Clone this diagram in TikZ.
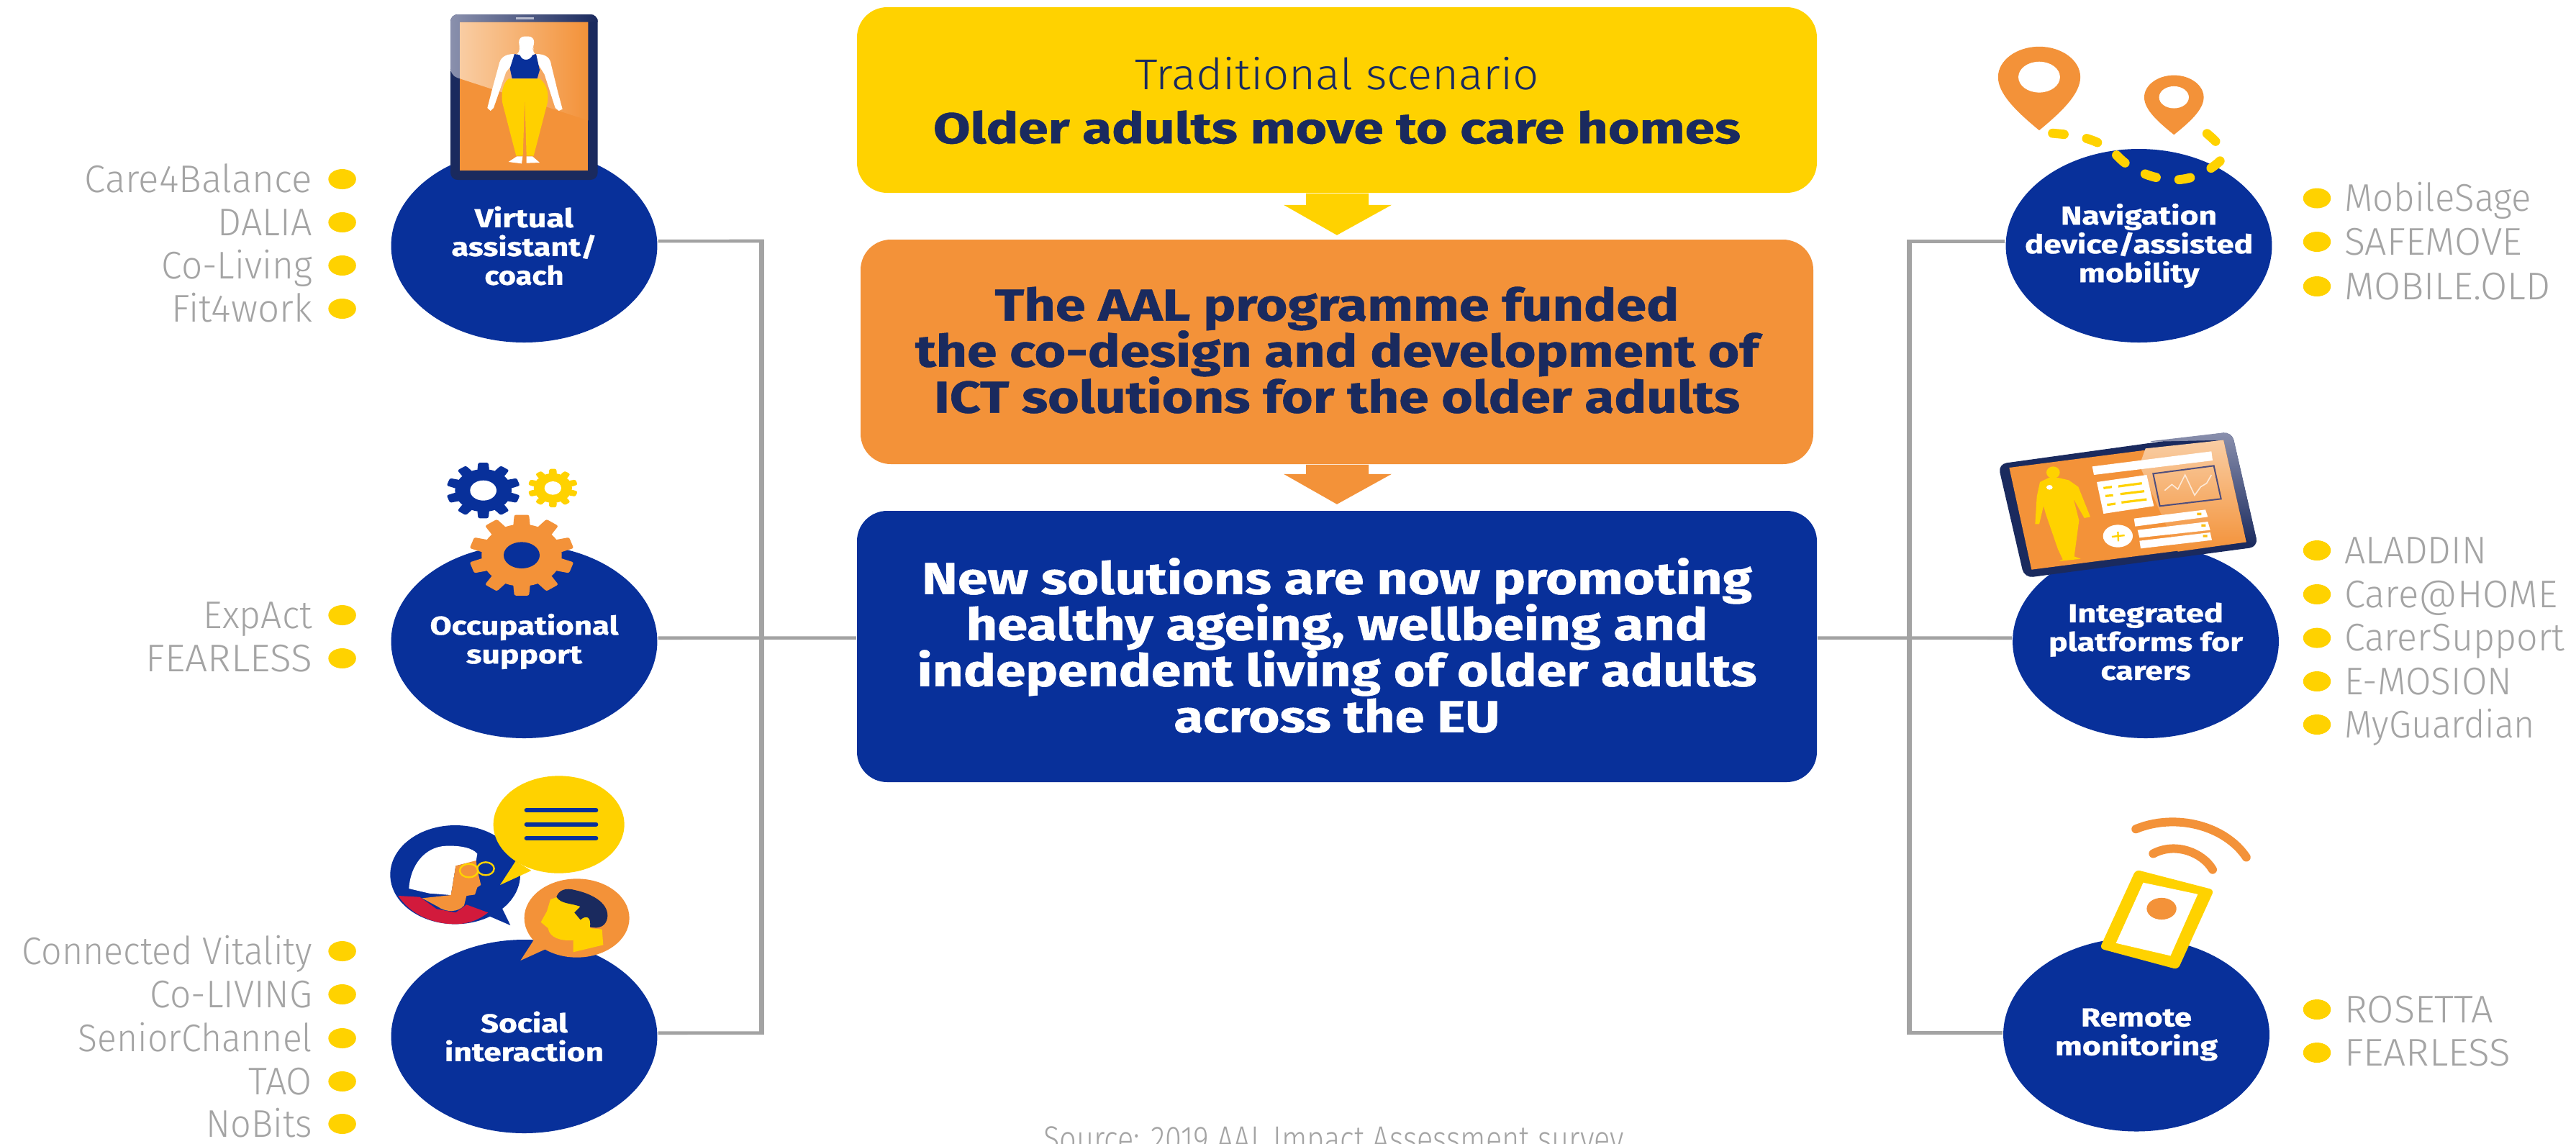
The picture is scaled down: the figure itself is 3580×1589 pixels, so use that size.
\documentclass[tikz,border=0pt]{standalone}
\usepackage{fontspec}
\usepackage{graphicx}
\usetikzlibrary{calc}
\newfontfamily\hb{Fira Sans}[BoldFeatures={FakeBold=0.8}]
\newfontfamily\lt{Fira Sans Light}
\definecolor{eublue}{HTML}{08309A}
\definecolor{euyel}{HTML}{FFD200}
\definecolor{euora}{HTML}{F39239}
\definecolor{eunavy}{HTML}{1A2A5E}
\definecolor{eugray}{HTML}{A4A4A4}
\definecolor{euline}{HTML}{A3A3A3}
\definecolor{peach}{HTML}{F9CDA3}
\definecolor{glossg}{HTML}{8A90AD}
\definecolor{eured}{HTML}{D21A3C}
\lineskiplimit=-20pt
\normallineskiplimit=-20pt
\newsavebox\fitbx
\newcommand\fitw[2]{\sbox\fitbx{#2}\pgfmathsetmacro\fitr{#1*0.25/1.375/\the\wd\fitbx}\scalebox{\fitr}[1]{\usebox\fitbx}}
\newcommand\gearicon[8]{%
 \fill[#5] (#1,#2) circle[x radius=#3*.76,y radius=#4*.76];
 \foreach \a in {0,36,...,324}{\fill[#5,rounded corners=.6pt]
   ({#1+#3*.72*sin(\a-13)},{#2-#4*.72*cos(\a-13)}) -- ({#1+#3*sin(\a-8)},{#2-#4*cos(\a-8)}) --
   ({#1+#3*sin(\a+8)},{#2-#4*cos(\a+8)}) -- ({#1+#3*.72*sin(\a+13)},{#2-#4*.72*cos(\a+13)}) -- cycle;}
 \fill[#8] (#1,#2) circle[x radius=#6,y radius=#7];}
\newcommand\pinicon[5]{% cx cy r tip hole
 \fill[euora] (#1,#4) .. controls ({#1-.55*#3},{#4-.35*(#4-#2)}) and ({#1-#3},{#2+.55*#3}) .. ({#1-#3},#2)
   .. controls ({#1-#3},{#2-.55*#3}) and ({#1-.55*#3},{#2-#3}) .. (#1,{#2-#3})
   .. controls ({#1+.55*#3},{#2-#3}) and ({#1+#3},{#2-.55*#3}) .. ({#1+#3},#2)
   .. controls ({#1+#3},{#2+.55*#3}) and ({#1+.55*#3},{#4-.35*(#4-#2)}) .. (#1,#4) -- cycle;
 \fill[white] (#1,#2) circle[x radius=#5,y radius=#5];}
\tikzset{
 every node/.style={xscale=1.375,transform shape},
 cir/.style={circle,fill=eublue,text=white,inner sep=0pt,minimum size=67.25pt,align=center,
   font=\hb\bfseries\fontsize{9}{10}\selectfont},
 boxn/.style n args={2}{rectangle,rounded corners=10.5pt,inner sep=0pt,align=center,
   minimum width={#1*0.25pt/1.375},minimum height={#2*0.25pt}},
 bul/.style={circle,fill=euyel,inner sep=0pt,minimum size=7pt},
 gt/.style={inner sep=0pt,text=eugray,font=\lt\fontsize{13.4}{15}\selectfont},
 hl/.style={draw=euline,line width=1.15pt},
 vl/.style={draw=euline,line width=1.75pt},
}
\begin{document}
\begin{tikzpicture}[x=0.25pt,y=-0.25pt]
\useasboundingbox (0,0) rectangle (3580,1589);
\fill[white] (0,0) rectangle (3580,1589);
% central boxes
\node[boxn={1334}{258},fill=euyel,text=eunavy,text depth=0pt,font=\hb\bfseries\fontsize{15}{18.75}\selectfont] (yel) at (1858,139)
 {{\lt\mdseries\fontsize{15}{18.75}\selectfont\fitw{562}{Traditional scenario}}\\\fitw{1122}{Older adults move to care homes}};
\node[boxn={1324}{312},fill=euora,text=eunavy,text depth=1.5pt,font=\hb\bfseries\fontsize{15.5}{16}\selectfont] (ora) at (1858,489)
 {\fitw{951}{The AAL programme funded}\\\fitw{1172}{the co-design and development of}\\\fitw{1120}{ICT solutions for the older adults}};
\node[boxn={1334}{377},fill=eublue,text=white,text depth=1pt,font=\hb\bfseries\fontsize{15.5}{16}\selectfont] (blu) at (1858,898.5)
 {\fitw{1154}{New solutions are now promoting}\\\fitw{1031}{healthy ageing, wellbeing and}\\\fitw{1167}{independent living of older adults}\\\fitw{453}{across the EU}};
\fill[euyel,shift={(yel.south)}] (-43,0)--(44,0)--(44,16)--(76,16)--(0,58)--(-74,16)--(-43,16)--cycle;
\fill[euora,shift={(ora.south)}] (-43,0)--(44,0)--(44,13)--(76,13)--(0,55)--(-74,13)--(-43,13)--cycle;
% category circles
\node[cir] (va) at (728.5,341.5) {\fitw{137}{Virtual}\\\fitw{202}{assistant/}\\\fitw{110}{coach}};
\node[cir] (occ) at (728.5,891.5) {\fitw{262}{Occupational}\\\fitw{161}{support}};
\node[cir] (soc) at (728.5,1440.5) {\fitw{121}{Social}\\\fitw{221}{interaction}};
\node[cir] (nav) at (2972.5,341.5) {\fitw{217}{Navigation}\\\fitw{317}{device/assisted}\\\fitw{168}{mobility}};
\node[cir] (int) at (2982,891.5) {\fitw{216}{Integrated}\\\fitw{270}{platforms for}\\\fitw{125}{carers}};
\node[cir] (rem) at (2969,1438) {\fitw{154}{Remote}\\\fitw{226}{monitoring}};
% connectors
\coordinate (lt) at (1058,335); \coordinate (lm) at (1058,886.6); \coordinate (lb) at (1058,1435.6);
\coordinate (rt) at (2653,335.5); \coordinate (rm) at (2653,886.6); \coordinate (rb) at (2653,1435.6);
\draw[vl,shorten <=-0.55pt,shorten >=-0.55pt] (lt) -- (lb);
\draw[vl,shorten <=-0.55pt,shorten >=-0.55pt] (rt) -- (rb);
\draw[hl,shorten >=-0.875pt] ([yshift=1.6pt]va.east) -- (lt);
\draw[hl,shorten >=-0.875pt] ([yshift=1.2pt]soc.east) -- (lb);
\draw[hl] ([yshift=1.2pt]occ.east) -- (lm) -- (lm -| blu.west);
\draw[hl,shorten >=-0.875pt] ([yshift=1.5pt]nav.west) -- (rt);
\draw[hl,shorten >=-0.875pt] ([yshift=0.6pt]rem.west) -- (rb);
\draw[hl] ([yshift=1.2pt]int.west) -- (rm) -- (rm -| blu.east);
% project lists
\foreach \n/\w/\y/\t in {a/316/249/Care4Balance,b/131/309/DALIA,c/209/369/Co-Living,d/195/429/Fit4work,e/151/855/ExpAct,f/231/915/FEARLESS,g/403/1322/Connected Vitality,h/225/1382/Co-LIVING,i/325/1443/SeniorChannel,j/88/1503/TAO,k/147/1562/NoBits}{
 \node[bul] (bl\n) at (475.6,\y) {};
 \node[gt,anchor=base east] (tl\n) at (435,{\y+18}) {\fitw{\w}{\t}};
}
\foreach \n/\w/\y/\t in {a/260/275.5/MobileSage,b/247/336/SAFEMOVE,c/286/398/MOBILE.OLD,d/198/765/ALADDIN,e/296/826/Care@HOME,f/306/886.6/CarerSupport,g/233/947/E-MOSION,h/265/1007/MyGuardian,i/207/1403/ROSETTA,j/231/1463/FEARLESS}{
 \node[bul] (br\n) at (3220,\y) {};
 \node[gt,anchor=base west] (tr\n) at (3257,{\y+18}) {\fitw{\w}{\t}};
}
\node[gt,anchor=base west,font=\lt\fontsize{12.5}{15}\selectfont] (src) at (1449,1600) {\fitw{807}{Source: 2019 AAL Impact Assessment survey}};
% tablet icon
\begin{scope}[shift={(600,10)},xscale=1/3,yscale=1/3]
 \fill[eunavy,rounded corners=2.5pt] (78,30) rectangle (692,720);
 \shade[left color=glossg,right color=eunavy] (78,285) -- (118,298) -- (118,62) -- (692,62) -- (692,50) [rounded corners=2.5pt] -- (692,30) -- (78,30) -- cycle;
 \fill[euora] (118,62) rectangle (652,680);
 \shade[left color=peach,right color=euora] (118,298) -- (652,472) -- (652,62) -- (118,62) -- cycle;
 \draw[glossg!60!white,line width=.6pt] (352,47) -- (425,47);
 \fill[white] (345,195) .. controls (300,195) and (285,215) .. (280,240) -- (250,350) -- (232,420) -- (245,432) -- (258,420) -- (310,270) -- (335,240) -- cycle;
 \fill[white] (435,195) .. controls (480,195) and (495,215) .. (498,240) -- (525,350) -- (545,425) -- (530,432) -- (515,420) -- (470,280) -- (445,240) -- cycle;
 \fill[white,rounded corners=2pt] (362,122) -- (428,122) -- (425,170) -- (415,190) -- (440,200) -- (395,230) -- (345,200) -- (372,190) -- (365,170) -- cycle;
 \fill[eublue] (345,195) -- (368,200) .. controls (375,225) and (410,225) .. (420,200) -- (435,195) -- (450,262) -- (440,297) -- (335,297) -- (326,255) -- cycle;
 \fill[euyel!97!orange] (320,298) -- (450,298) .. controls (480,320) and (490,360) .. (482,400) -- (425,620) -- (395,620) -- (388,380) -- (380,620) -- (352,620) -- (295,400) .. controls (288,360) and (295,320) .. (320,298) -- cycle;
 \fill[white] (355,622) -- (320,645) -- (375,652) -- (379,622) -- cycle;
 \fill[white] (395,622) -- (395,650) -- (450,648) -- (420,622) -- cycle;
\end{scope}
% gears
\begin{scope}[shift={(590,620)},xscale=1/3,yscale=1/3]
 \gearicon{245}{185}{155}{117}{eublue}{55}{42}{white}
 \gearicon{535}{175}{105}{81}{euyel}{35}{28}{white}
 \gearicon{405}{455}{220}{170}{euora}{75}{55}{eublue}
\end{scope}
% speech bubbles
\begin{scope}[shift={(520,1060)},xscale=1/3,yscale=1/3]
 \fill[eublue] (338,467) circle[x radius=271,y radius=206];
 \fill[eublue] (480,640) -- (568,678) -- (530,600) -- cycle;
 \fill[eured] (100,555) -- (190,560) -- (260,610) -- (340,625) -- (385,592) -- (475,625) .. controls (430,660) and (385,673) .. (338,673) .. controls (240,673) and (150,630) .. (100,555) -- cycle;
 \fill[white] (145,525) .. controls (150,430) and (210,350) .. (300,347) .. controls (360,345) and (410,355) .. (430,380) -- (425,410) -- (340,430) -- (320,552) -- (230,545) -- cycle;
 \fill[euora] (340,430) -- (425,408) -- (430,445) -- (445,510) -- (430,520) -- (420,550) -- (385,555) -- (375,595) .. controls (350,625) and (300,625) .. (265,600) -- (200,565) -- (320,552) -- cycle;
 \draw[euyel,line width=.6pt] (395,450) circle[x radius=38,y radius=28];
 \draw[euyel,line width=.6pt] (465,442) circle[x radius=35,y radius=27];
 \fill[euyel] (770,258) circle[x radius=273,y radius=203];
 \fill[euyel] (590,410) -- (525,510) -- (655,450) -- cycle;
 \foreach \yy in {198,257,315}{\draw[eublue,line width=1.5pt,line cap=round] (635,\yy) -- (925,\yy);}
 \fill[euora] (845,648) circle[x radius=219,y radius=164];
 \fill[euora] (665,740) -- (610,825) -- (720,775) -- cycle;
 \fill[euyel] (765,560) -- (860,600) -- (900,640) -- (900,690) -- (950,695) -- (955,760) -- (830,790) -- (830,740) .. controls (780,745) and (730,730) .. (725,690) -- (695,665) -- (720,620) -- (735,570) -- cycle;
 \fill[eunavy] (760,560) .. controls (770,530) and (800,520) .. (840,532) .. controls (900,545) and (975,580) .. (973,640) .. controls (970,680) and (940,695) .. (900,685) .. controls (905,650) and (890,630) .. (860,655) -- (835,625) -- (860,600) .. controls (820,585) and (780,590) .. (760,560) -- cycle;
\end{scope}
% pins
\begin{scope}[shift={(2500,0)},xscale=1/1.452,yscale=1/1.96]
 \pinicon{485}{210}{83}{355}{42}
 \pinicon{757}{265}{60}{367}{30}
 \draw[euyel,line width=3.2pt,line cap=round,dash pattern=on 4pt off 8pt] plot[smooth,tension=.7] coordinates {(512,363) (575,375) (625,405) (665,450) (720,483) (780,487) (835,455) (855,410) (808,347)};
\end{scope}
% laptop
\begin{scope}[shift={(2760,590)},xscale=1/3,yscale=1/3]
 \fill[eunavy,rounded corners=3pt] (50,165) -- (1025,30) -- (1135,510) -- (160,640) -- cycle;
 \shade[top color=glossg,bottom color=eunavy,rounded corners=3pt] (665,72) -- (1025,30) -- (1135,510) -- (1085,490) -- (990,65) -- cycle;
 \fill[euora] (97,180) -- (990,65) -- (1085,490) -- (190,605) -- cycle;
 \shade[top color=peach,bottom color=euora] (665,100) -- (990,65) -- (1085,490) -- (800,530) -- (640,170) -- cycle;
 \fill[white] (443,175) -- (940,112) -- (945,150) -- (450,210) -- cycle;
 \fill[white] (462,240) -- (670,210) -- (700,340) -- (490,372) -- cycle;
 \draw[euyel,line width=.8pt] (490,265) -- (525,260) (552,258) -- (650,245) (498,298) -- (530,295) (560,290) -- (660,278) (505,335) -- (540,330) (565,325) -- (670,312);
 \draw[eublue!70!euora,line width=.5pt] (697,205) -- (950,172) -- (980,310) -- (725,340) -- cycle;
 \draw[white!80!euora,line width=.4pt] (745,275) -- (775,250) -- (800,270) -- (830,210) -- (870,295) -- (895,260) -- (920,245) -- (940,210);
 \fill[white] (550,465) circle[x radius=62,y radius=47];
 \draw[euyel,line width=.6pt] (525,468) -- (578,462) (550,447) -- (552,487);
 \fill[white] (617,392) -- (915,355) -- (925,385) -- (622,425) -- cycle;
 \fill[white] (632,440) -- (925,405) -- (935,440) -- (640,472) -- cycle;
 \fill[white] (640,485) -- (935,450) -- (942,482) -- (645,517) -- cycle;
 \fill[euyel!70!euora] (880,368) rectangle (898,378) (898,416) rectangle (916,426) (905,460) rectangle (923,470);
 \fill[euyel] (280,200) circle[x radius=28,y radius=25];
 \fill[euyel] (262,222) -- (225,240) -- (212,300) -- (205,415) -- (222,415) -- (240,340) -- (250,375) -- (300,520) -- (320,562) -- (305,570) -- (395,560) -- (368,550) -- (388,400) -- (365,310) -- (410,390) -- (435,385) -- (385,260) -- (345,232) -- (300,222) -- cycle;
 \fill[white] (265,262) circle[x radius=13,y radius=10];
\end{scope}
% phone
\begin{scope}[shift={(2500,800)},xscale=1/1.452,yscale=1/1.987]
 \fill[euyel,rounded corners=1.5pt] (680,812) -- (838,868) -- (765,1088) -- (607,1030) -- cycle;
 \fill[white] (695,848) -- (805,880) -- (750,1050) -- (640,1015) -- cycle;
 \fill[euora] (732,920) circle[x radius=30,y radius=30];
 \draw[euora,line width=3pt,line cap=round] (680,700) .. controls (760,655) and (860,690) .. (903,778);
 \draw[euora,line width=3pt,line cap=round] (715,768) .. controls (760,735) and (815,765) .. (835,812);
\end{scope}
\end{tikzpicture}
\end{document}
